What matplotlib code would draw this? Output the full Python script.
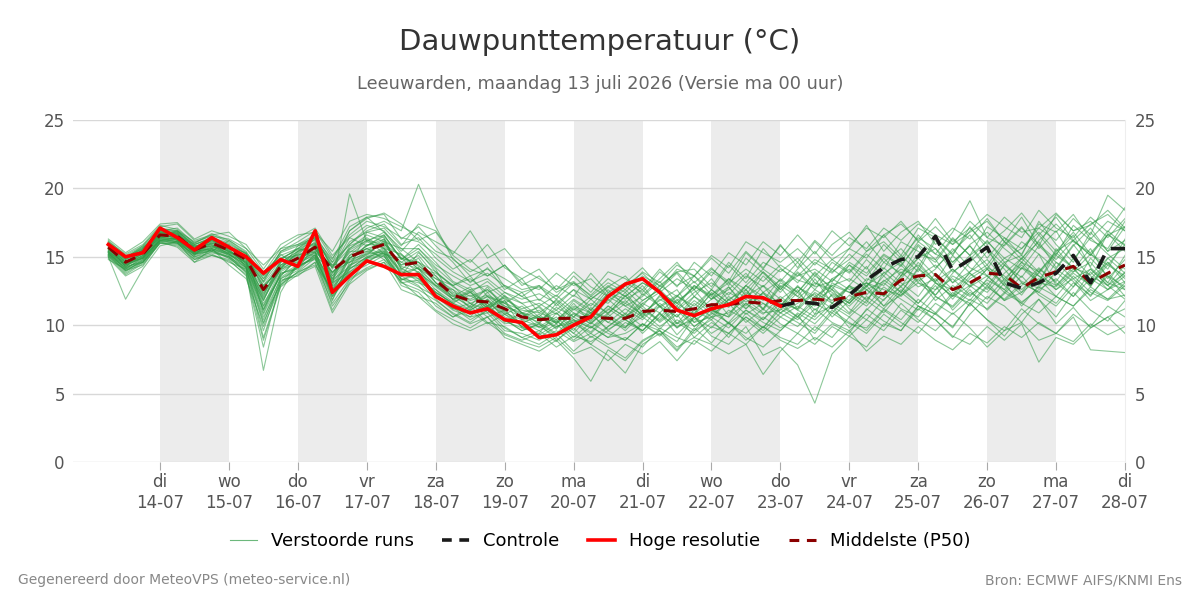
import numpy as np
import matplotlib
matplotlib.use("Agg")
import matplotlib.pyplot as plt

# tijdas: elke 6 uur vanaf ma 13-07 06:00, in dagen t.o.v. di 14-07 00:00
start_dag = -0.75
stap = 0.25

dag_namen = ["di", "wo", "do", "vr", "za", "zo", "ma", "di", "wo", "do", "vr", "za", "zo", "ma", "di"]
datums = ["14-07", "15-07", "16-07", "17-07", "18-07", "19-07", "20-07", "21-07",
          "22-07", "23-07", "24-07", "25-07", "26-07", "27-07", "28-07"]

hoge_resolutie = [15.9, 15.0, 15.3, 17.1, 16.4, 15.5, 16.4, 15.7, 15.0, 13.8,
                  14.8, 14.3, 16.9, 12.4, 13.6, 14.7, 14.3, 13.7, 13.7, 12.1,
                  11.4, 10.9, 11.2, 10.4, 10.2, 9.1, 9.3, 10.0, 10.6, 12.1,
                  13.0, 13.4, 12.4, 11.1, 10.7, 11.2, 11.5, 12.1, 12.0, 11.4]

controle_begin = 39  # controle-run pas zichtbaar vanaf index 39
controle = [11.4, 11.7, 11.6, 11.3, 12.2, 13.3, 14.2, 14.8, 15.0, 16.5,
            14.0, 14.8, 15.7, 13.1, 12.7, 13.1, 13.8, 15.1, 13.1, 15.6, 15.6]

p50 = [15.7, 14.6, 15.2, 16.6, 16.5, 15.5, 16.0, 15.5, 14.8, 12.6,
       14.3, 14.9, 15.7, 14.0, 15.0, 15.5, 15.9, 14.4, 14.6, 13.3,
       12.2, 11.8, 11.7, 11.2, 10.6, 10.4, 10.5, 10.5, 10.6, 10.5,
       10.5, 11.0, 11.1, 11.0, 11.2, 11.5, 11.5, 11.7, 11.6, 11.8,
       11.8, 11.9, 11.8, 12.1, 12.4, 12.3, 13.3, 13.6, 13.7, 12.6,
       13.1, 13.8, 13.7, 12.7, 13.5, 13.9, 14.3, 13.1, 13.8, 14.4]

r01 = [15.9, 14.2, 15.6, 16.9, 16.2, 15.1, 16.3, 15.9, 14.2, 11.8, 14.6, 15.2, 16.1, 13.2, 15.8, 16.3, 15.2, 14.9, 13.8, 12.9,
       12.6, 11.2, 12.4, 11.0, 10.1, 10.8, 9.7, 11.2, 10.4, 11.9, 10.8, 12.3, 11.4, 10.6, 12.1, 11.0, 12.8, 11.4, 12.9, 11.3,
       12.6, 10.8, 13.1, 12.4, 11.6, 13.9, 12.8, 14.6, 13.2, 15.1, 13.8, 12.6, 14.4, 13.5, 15.2, 12.9, 14.1, 15.6, 13.4, 14.8]
r02 = [15.2, 13.9, 14.8, 16.3, 16.9, 15.8, 15.4, 16.2, 15.3, 10.9, 13.8, 14.1, 15.9, 12.8, 14.2, 16.8, 16.4, 13.6, 15.3, 14.1,
       11.8, 12.5, 10.9, 11.8, 9.8, 9.4, 10.9, 9.6, 11.3, 10.2, 9.8, 11.6, 12.4, 10.1, 10.9, 12.3, 10.7, 12.6, 11.1, 12.8,
       11.2, 13.4, 11.6, 12.9, 14.3, 12.1, 13.6, 15.2, 14.8, 13.1, 14.6, 15.8, 13.2, 14.9, 16.1, 14.2, 15.9, 14.3, 16.7, 15.4]
r03 = [14.9, 13.6, 14.3, 16.1, 15.7, 14.6, 15.1, 14.8, 13.6, 8.4, 13.2, 13.8, 14.6, 11.6, 13.4, 14.2, 14.8, 13.1, 12.6, 11.8,
       10.9, 10.2, 11.1, 9.8, 9.1, 8.6, 9.4, 8.1, 9.2, 8.4, 7.6, 8.9, 9.6, 8.2, 9.8, 8.7, 10.2, 9.1, 8.4, 9.6,
       10.8, 8.9, 10.1, 9.4, 11.2, 10.3, 9.6, 11.4, 10.8, 9.9, 11.6, 10.4, 9.2, 10.8, 11.9, 10.1, 11.3, 9.8, 10.6, 11.2]
r04 = [16.2, 15.1, 15.8, 17.2, 17.4, 16.2, 16.6, 16.8, 15.6, 13.9, 15.1, 15.6, 16.4, 14.8, 17.2, 17.9, 18.1, 16.3, 17.2, 15.8,
       14.6, 13.1, 14.2, 12.6, 13.4, 11.8, 12.9, 12.1, 13.8, 12.4, 13.1, 14.2, 12.8, 13.9, 12.6, 14.1, 13.2, 15.3, 14.1, 15.9,
       14.2, 16.1, 14.8, 15.6, 17.3, 15.4, 16.8, 17.6, 15.9, 17.1, 16.3, 17.8, 16.1, 15.2, 17.4, 16.8, 18.1, 16.3, 17.6, 16.9]
r05 = [15.6, 14.8, 15.3, 16.4, 16.1, 15.8, 15.9, 15.2, 14.4, 12.1, 14.8, 15.6, 15.3, 14.4, 14.6, 15.1, 16.2, 14.1, 13.6, 12.4,
       11.6, 12.4, 11.2, 12.1, 10.9, 11.3, 10.1, 11.6, 10.2, 11.1, 12.4, 10.9, 11.8, 12.6, 10.8, 11.9, 12.8, 11.2, 12.4, 10.9,
       11.6, 12.3, 10.6, 11.8, 12.9, 11.4, 12.2, 13.6, 12.1, 11.4, 12.8, 14.1, 12.9, 11.7, 12.6, 13.4, 12.1, 13.9, 12.6, 13.2]
r06 = [15.4, 14.5, 14.9, 16.8, 16.7, 15.4, 16.2, 15.7, 14.9, 13.2, 15.2, 14.2, 16.6, 12.9, 19.6, 16.1, 16.8, 15.2, 14.1, 13.8,
       12.9, 13.6, 12.1, 11.6, 12.4, 10.9, 11.8, 10.6, 11.9, 10.8, 12.2, 10.6, 11.4, 9.8, 11.1, 10.4, 11.9, 12.6, 11.2, 13.1,
       12.4, 13.8, 12.1, 10.9, 12.6, 11.8, 13.4, 14.9, 13.6, 12.2, 13.9, 15.4, 14.1, 12.6, 13.8, 15.2, 16.6, 14.2, 13.1, 15.1]
r07 = [15.1, 13.8, 14.6, 16.2, 16.4, 15.2, 15.6, 15.1, 13.9, 6.7, 12.4, 14.6, 15.1, 13.1, 13.9, 14.6, 15.4, 13.8, 14.2, 12.1,
       11.1, 10.6, 11.9, 10.4, 9.6, 10.1, 8.9, 9.8, 8.6, 9.9, 10.8, 9.4, 10.6, 11.9, 10.2, 11.4, 10.1, 11.1, 10.4, 11.6,
       10.6, 11.8, 12.6, 11.2, 10.4, 11.9, 12.8, 11.6, 12.9, 11.1, 12.4, 11.6, 13.1, 11.4, 12.9, 14.1, 13.2, 11.8, 12.6, 13.6]
r08 = [16.0, 14.9, 15.5, 16.7, 16.6, 15.9, 16.4, 15.3, 15.1, 12.9, 14.1, 15.8, 16.2, 14.6, 15.9, 17.1, 17.6, 16.9, 20.3, 17.2,
       14.8, 13.9, 14.6, 12.8, 12.1, 12.9, 11.4, 12.6, 11.1, 12.3, 11.6, 12.9, 11.3, 12.1, 13.6, 12.2, 13.1, 11.9, 13.6, 12.4,
       13.8, 12.6, 14.1, 13.2, 14.8, 13.6, 15.1, 13.9, 16.2, 14.6, 15.8, 14.1, 15.9, 17.2, 15.6, 16.9, 14.8, 16.4, 15.2, 14.1]
r09 = [15.3, 14.4, 15.1, 16.4, 16.2, 15.6, 15.8, 15.4, 14.6, 11.4, 13.6, 14.9, 15.4, 12.1, 13.6, 14.9, 15.6, 13.4, 13.1, 12.6,
       11.4, 10.8, 11.6, 10.2, 10.9, 9.8, 10.4, 9.1, 10.2, 9.4, 8.9, 10.1, 9.6, 8.8, 10.6, 9.2, 8.6, 9.9, 7.8, 8.4,
       7.1, 4.3, 7.9, 9.2, 8.4, 10.1, 9.6, 11.2, 10.4, 9.1, 10.8, 12.1, 11.4, 10.2, 11.9, 10.6, 12.4, 11.1, 10.3, 11.8]
r10 = [15.8, 15.0, 15.4, 16.5, 16.8, 15.3, 16.1, 15.6, 15.0, 13.6, 14.9, 15.1, 15.8, 14.2, 16.4, 15.8, 16.6, 14.8, 15.9, 14.6,
       13.2, 12.6, 12.9, 11.9, 11.2, 11.6, 10.8, 11.9, 11.1, 12.6, 11.4, 12.1, 13.2, 11.6, 12.8, 12.1, 11.3, 12.9, 12.1, 11.4,
       12.9, 11.6, 13.4, 14.1, 12.8, 14.6, 13.8, 14.9, 15.6, 13.9, 14.8, 16.2, 14.6, 15.1, 13.9, 15.4, 16.8, 15.2, 14.1, 16.3]
r11 = [14.8, 14.1, 14.6, 16.1, 16.3, 14.9, 15.2, 14.6, 14.1, 10.2, 13.1, 14.4, 14.8, 12.4, 14.9, 15.6, 14.8, 13.6, 12.9, 11.4,
       10.6, 11.4, 10.2, 9.9, 9.1, 9.6, 8.8, 10.1, 9.4, 10.6, 9.8, 11.1, 10.3, 11.4, 9.9, 10.8, 11.6, 10.2, 11.2, 10.1,
       9.4, 10.8, 11.4, 9.8, 11.1, 12.4, 11.2, 10.6, 12.1, 11.3, 12.6, 11.1, 12.3, 13.6, 12.2, 11.4, 12.8, 14.1, 12.9, 11.9]
r12 = [15.5, 14.6, 15.2, 16.6, 16.4, 15.7, 16.0, 15.8, 14.7, 12.3, 14.4, 14.8, 15.5, 13.8, 15.3, 16.2, 15.9, 15.1, 14.3, 13.6,
       12.4, 11.9, 12.6, 11.4, 10.8, 10.2, 11.3, 10.6, 11.6, 10.9, 11.8, 10.7, 12.1, 11.2, 12.4, 13.1, 12.2, 13.6, 12.8, 14.1,
       13.3, 12.9, 14.6, 13.8, 15.2, 14.1, 16.1, 15.4, 14.6, 16.3, 15.1, 17.2, 16.4, 15.6, 17.1, 16.2, 17.8, 16.6, 19.5, 18.4]
r13 = [15.7, 14.3, 15.0, 16.9, 16.6, 15.5, 16.5, 15.4, 14.9, 12.8, 14.2, 15.3, 16.0, 13.6, 15.4, 15.4, 16.3, 14.1, 14.9, 13.1,
       12.1, 12.8, 11.4, 12.4, 11.6, 10.6, 11.9, 10.9, 10.3, 11.4, 10.6, 11.8, 12.6, 11.4, 12.9, 11.9, 13.4, 12.2, 13.9, 12.6,
       13.9, 12.8, 13.2, 14.4, 13.6, 15.1, 14.3, 16.1, 15.2, 16.8, 19.1, 16.4, 15.8, 17.1, 15.9, 14.8, 16.2, 15.1, 16.9, 15.8]
r14 = [15.0, 14.0, 14.4, 16.0, 15.9, 15.0, 15.3, 15.0, 13.8, 9.6, 13.4, 14.0, 15.2, 11.9, 14.1, 15.0, 15.3, 13.3, 13.9, 12.8,
       11.9, 11.1, 11.8, 10.6, 10.2, 9.6, 10.3, 9.4, 10.8, 9.7, 10.4, 9.6, 10.8, 9.9, 10.4, 11.1, 10.6, 11.6, 10.8, 12.1,
       11.1, 12.4, 11.6, 12.8, 11.9, 13.1, 12.1, 13.4, 11.8, 12.9, 12.1, 13.3, 12.6, 11.6, 12.8, 12.1, 13.6, 12.4, 11.8, 12.9]
r15 = [16.1, 15.2, 15.9, 17.3, 17.0, 16.0, 16.7, 16.2, 15.4, 13.4, 15.4, 16.1, 16.9, 14.9, 16.6, 17.6, 17.2, 16.4, 16.1, 15.2,
       14.1, 14.8, 13.6, 14.4, 13.1, 12.6, 13.8, 12.9, 13.4, 12.1, 12.9, 13.8, 12.6, 14.1, 13.6, 15.1, 14.2, 16.1, 15.3, 14.6,
       15.6, 14.4, 15.9, 16.8, 15.4, 16.6, 17.4, 16.2, 17.8, 16.1, 17.1, 15.9, 16.9, 18.2, 16.6, 17.9, 16.2, 17.4, 18.1, 16.9]
r16 = [15.2, 14.2, 14.8, 16.2, 16.0, 15.2, 15.5, 15.0, 14.1, 10.6, 13.0, 13.9, 14.4, 12.6, 13.8, 14.4, 15.1, 12.9, 12.4, 11.1,
       10.4, 9.8, 10.6, 9.1, 8.6, 8.1, 8.9, 7.6, 5.9, 8.2, 7.4, 8.8, 9.6, 8.4, 9.1, 10.2, 9.4, 10.6, 9.8, 11.2,
       10.4, 11.6, 10.9, 12.2, 11.4, 12.8, 11.9, 11.1, 12.6, 13.4, 12.2, 13.1, 11.8, 12.9, 14.2, 13.1, 12.1, 13.4, 14.6, 13.1]
r17 = [15.6, 14.7, 15.2, 16.7, 16.5, 15.6, 16.2, 15.5, 14.5, 12.4, 14.0, 15.0, 15.6, 13.9, 14.6, 15.9, 15.8, 14.6, 15.4, 13.9,
       12.8, 12.1, 12.6, 11.6, 11.1, 10.9, 10.4, 11.4, 10.9, 11.8, 12.6, 11.4, 12.9, 12.1, 13.2, 11.9, 12.6, 13.8, 12.4, 13.3,
       12.1, 13.6, 12.8, 11.6, 12.9, 13.8, 14.6, 13.2, 14.1, 15.6, 14.2, 13.6, 14.9, 14.1, 15.8, 14.6, 13.9, 15.2, 14.4, 15.9]
r18 = [15.3, 14.6, 14.9, 16.4, 16.3, 15.3, 15.7, 15.3, 14.6, 11.9, 14.1, 14.5, 15.4, 12.6, 14.4, 15.3, 16.0, 14.2, 13.4, 12.3,
       11.2, 11.6, 10.6, 11.1, 9.9, 10.2, 9.4, 10.6, 9.9, 9.1, 10.2, 9.6, 10.9, 9.3, 10.6, 9.8, 11.1, 10.4, 9.4, 10.6,
       9.9, 11.2, 10.2, 9.6, 10.8, 9.9, 11.6, 10.4, 9.6, 10.9, 9.8, 8.4, 9.6, 10.2, 8.9, 9.4, 10.6, 8.2, 8.1, 8.0]
r19 = [15.8, 14.9, 15.6, 16.8, 16.6, 15.8, 16.1, 15.9, 15.2, 12.6, 14.6, 15.4, 15.9, 13.4, 15.6, 16.4, 15.6, 14.4, 15.1, 13.6,
       12.2, 11.3, 12.1, 10.9, 10.4, 9.9, 10.6, 9.4, 8.6, 7.8, 6.5, 8.6, 9.4, 8.1, 9.6, 10.4, 9.1, 10.9, 9.8, 11.4,
       10.6, 12.1, 11.2, 12.9, 11.8, 13.3, 12.4, 14.1, 13.1, 12.1, 13.6, 14.4, 12.9, 14.6, 13.2, 15.1, 14.2, 12.8, 14.9, 13.8]
r20 = [15.6, 14.4, 15.3, 17.0, 16.9, 15.9, 16.3, 15.6, 15.0, 13.1, 14.8, 15.6, 16.6, 14.1, 16.1, 16.8, 17.1, 15.8, 17.4, 16.9,
       15.2, 16.9, 14.9, 15.6, 14.1, 13.4, 12.6, 13.9, 12.8, 12.1, 13.1, 12.4, 13.9, 12.9, 13.6, 12.6, 14.4, 13.1, 14.6, 13.9,
       14.9, 13.6, 14.8, 13.9, 15.4, 16.1, 14.9, 16.4, 15.6, 14.4, 15.9, 16.8, 15.6, 14.6, 16.2, 17.4, 16.1, 15.3, 16.6, 17.2]
r21 = [15.4, 14.5, 15.1, 16.5, 16.2, 15.4, 15.9, 15.2, 14.4, 11.2, 13.9, 14.7, 15.3, 12.9, 14.8, 15.2, 15.4, 13.9, 13.6, 12.4,
       11.6, 10.9, 11.4, 10.4, 9.6, 10.1, 9.3, 10.4, 9.8, 10.6, 9.6, 10.9, 9.9, 10.8, 9.1, 8.6, 7.9, 8.6, 6.4, 8.1,
       9.4, 8.6, 9.9, 9.2, 10.4, 9.6, 11.1, 10.2, 11.6, 10.8, 11.9, 11.2, 12.4, 11.6, 10.9, 12.1, 11.4, 12.6, 11.9, 12.2]
r22 = [15.1, 14.0, 14.7, 16.3, 16.1, 15.1, 15.5, 15.2, 14.2, 9.1, 12.9, 14.3, 14.9, 11.4, 13.1, 14.8, 15.1, 13.1, 13.3, 12.2,
       11.4, 10.6, 10.9, 9.6, 9.4, 8.9, 9.6, 8.8, 9.4, 8.6, 9.1, 8.4, 9.8, 9.1, 8.6, 9.9, 9.4, 10.6, 9.6, 10.9,
       10.2, 9.4, 10.9, 10.1, 9.8, 11.2, 10.4, 11.9, 10.9, 12.4, 11.4, 12.8, 11.9, 13.1, 12.4, 11.6, 13.1, 12.2, 13.6, 12.8]
r23 = [16.0, 15.0, 15.7, 16.6, 16.9, 15.7, 16.4, 15.7, 15.3, 13.8, 15.6, 15.9, 16.4, 14.2, 16.9, 17.9, 16.8, 15.6, 14.6, 13.9,
       12.9, 13.4, 12.4, 12.9, 12.1, 11.4, 12.2, 11.1, 12.1, 11.6, 12.9, 11.8, 12.6, 13.8, 12.1, 13.4, 11.8, 12.9, 14.1, 13.2,
       14.6, 13.1, 12.6, 14.4, 13.2, 14.9, 13.6, 15.8, 14.2, 15.4, 16.6, 14.9, 16.4, 15.1, 17.6, 15.9, 14.6, 16.8, 15.4, 17.2]
r24 = [15.5, 14.7, 15.0, 16.2, 16.4, 15.5, 15.8, 15.4, 14.6, 11.6, 13.6, 14.9, 15.6, 13.4, 14.9, 15.6, 15.2, 14.6, 14.1, 12.9,
       11.9, 12.4, 11.6, 10.8, 11.4, 10.4, 10.9, 9.9, 11.1, 10.2, 11.2, 10.4, 11.6, 10.6, 11.8, 10.9, 12.1, 11.2, 12.4, 11.6,
       11.2, 12.6, 11.8, 12.9, 12.2, 13.6, 12.4, 14.2, 13.1, 12.6, 13.8, 12.9, 14.4, 13.2, 12.7, 14.6, 13.4, 14.1, 12.9, 13.8]
r25 = [15.2, 14.3, 14.6, 16.0, 16.0, 14.8, 15.4, 14.9, 13.9, 10.1, 13.3, 13.6, 14.6, 11.1, 13.3, 14.1, 14.6, 13.2, 12.1, 11.6,
       10.6, 11.1, 10.1, 10.8, 9.9, 9.3, 10.1, 8.9, 9.9, 9.1, 9.4, 10.1, 9.2, 10.4, 9.6, 11.2, 10.1, 9.4, 10.6, 9.8,
       10.6, 9.6, 11.1, 10.2, 9.4, 10.8, 9.9, 11.4, 10.4, 9.2, 8.6, 9.9, 8.9, 10.1, 7.3, 9.1, 8.6, 9.8, 10.6, 9.4]
r26 = [15.9, 14.9, 15.8, 17.1, 16.9, 16.1, 16.5, 16.3, 15.6, 14.4, 15.6, 16.4, 17.1, 15.1, 16.4, 17.3, 16.9, 15.4, 16.8, 16.1,
       15.4, 14.6, 15.9, 14.2, 13.4, 14.1, 12.6, 13.2, 12.1, 13.1, 12.4, 13.6, 12.9, 13.9, 14.1, 12.8, 14.6, 13.4, 15.6, 14.2,
       13.1, 14.6, 13.8, 15.2, 14.1, 15.9, 14.6, 16.6, 15.2, 14.6, 15.8, 14.4, 16.1, 14.8, 16.6, 15.1, 17.3, 16.2, 15.6, 17.6]
r27 = [15.7, 14.8, 15.4, 16.6, 16.7, 15.6, 16.2, 15.7, 14.8, 12.2, 14.4, 15.2, 15.1, 13.9, 14.9, 15.8, 16.5, 14.9, 14.6, 13.4,
       12.6, 11.8, 12.2, 11.6, 10.6, 11.1, 10.1, 11.3, 10.6, 12.4, 11.9, 12.6, 11.4, 12.2, 11.1, 12.6, 11.6, 12.1, 11.2, 12.9,
       12.1, 11.4, 12.9, 12.4, 13.1, 12.2, 13.9, 12.8, 13.4, 11.9, 13.4, 14.2, 13.6, 12.4, 14.1, 13.2, 14.9, 13.6, 12.9, 14.4]
r28 = [15.3, 14.1, 14.9, 16.3, 16.1, 15.4, 15.6, 15.3, 14.3, 11.1, 13.8, 14.2, 15.0, 12.3, 14.2, 14.6, 15.3, 13.4, 12.8, 12.1,
       11.3, 10.4, 11.1, 10.1, 10.3, 9.1, 9.9, 10.4, 9.1, 9.9, 10.9, 9.9, 11.4, 10.1, 11.6, 10.6, 10.9, 11.9, 10.9, 11.1,
       12.4, 11.1, 12.2, 11.4, 12.6, 11.4, 12.9, 13.6, 12.2, 13.6, 12.9, 14.1, 13.1, 14.4, 13.1, 12.8, 13.9, 14.6, 13.1, 12.6]
r29 = [15.8, 14.6, 15.5, 16.8, 16.8, 15.7, 16.3, 15.7, 15.0, 13.4, 14.9, 15.5, 16.3, 14.3, 15.6, 16.6, 16.1, 15.6, 15.6, 14.4,
       13.6, 12.9, 13.4, 12.4, 11.9, 12.3, 11.6, 12.6, 11.9, 12.9, 12.1, 13.1, 12.4, 13.4, 12.6, 13.9, 13.1, 14.1, 13.2, 14.4,
       13.6, 14.8, 14.1, 15.6, 14.9, 16.6, 15.1, 17.1, 16.4, 15.2, 16.9, 18.1, 17.2, 16.4, 18.4, 17.1, 16.4, 17.9, 16.8, 18.6]
r30 = [15.4, 14.3, 15.1, 16.5, 16.3, 15.3, 15.8, 15.1, 14.7, 12.0, 14.2, 14.6, 15.8, 13.3, 14.3, 15.2, 16.1, 14.3, 13.9, 12.6,
       11.7, 12.2, 11.3, 11.8, 10.4, 10.6, 9.9, 10.2, 10.9, 9.6, 10.6, 11.4, 10.2, 11.2, 10.2, 10.6, 11.9, 10.8, 11.6, 10.6,
       11.4, 10.6, 12.3, 11.6, 13.1, 12.6, 12.2, 13.1, 12.6, 14.1, 12.8, 13.6, 12.6, 14.2, 13.6, 12.6, 13.8, 12.9, 14.6, 13.4]
r31 = [15.0, 13.7, 14.5, 16.0, 15.8, 14.8, 15.1, 14.7, 13.7, 8.9, 12.8, 13.7, 14.3, 10.9, 13.0, 14.0, 14.6, 12.6, 12.1, 11.0,
       10.1, 9.6, 10.2, 9.3, 8.8, 8.4, 9.1, 7.9, 8.4, 7.4, 8.6, 7.9, 8.8, 7.4, 8.9, 8.1, 9.4, 8.6, 9.9, 8.9,
       8.3, 9.1, 8.4, 9.6, 8.1, 9.2, 8.6, 9.9, 8.9, 8.2, 9.4, 8.7, 9.9, 9.1, 10.2, 9.4, 8.8, 10.1, 9.3, 9.9]
r32 = [16.3, 15.3, 16.1, 17.4, 17.5, 16.3, 16.9, 16.5, 15.9, 14.1, 15.9, 16.6, 16.8, 15.4, 17.6, 18.1, 17.8, 17.2, 16.6, 15.4,
       14.9, 13.6, 14.1, 13.4, 12.6, 12.9, 12.1, 13.6, 12.4, 13.9, 13.4, 12.6, 14.1, 12.8, 14.6, 13.6, 15.3, 14.4, 16.1, 15.1,
       16.6, 15.2, 16.9, 15.8, 17.1, 16.4, 17.6, 16.1, 17.2, 15.9, 16.8, 17.6, 16.1, 17.9, 15.8, 18.1, 16.9, 17.3, 18.4, 17.1]
r33 = [15.6, 14.6, 15.2, 16.8, 16.2, 15.5, 16.0, 15.5, 14.5, 12.7, 14.4, 15.1, 15.6, 13.6, 15.1, 15.6, 16.0, 14.4, 14.6, 13.1,
       12.3, 11.6, 12.1, 11.4, 10.9, 10.4, 11.1, 10.1, 10.9, 10.6, 11.6, 10.8, 11.9, 11.1, 12.1, 11.3, 12.4, 11.7, 12.3, 11.4,
       12.8, 12.1, 12.9, 13.4, 12.6, 13.2, 14.1, 13.6, 14.4, 13.1, 13.9, 14.8, 13.4, 14.6, 13.9, 15.3, 14.2, 13.7, 14.9, 15.6]
r34 = [15.1, 14.2, 14.7, 16.2, 16.0, 15.0, 15.5, 14.9, 14.0, 10.4, 13.5, 14.3, 15.0, 12.1, 13.9, 14.9, 15.2, 13.3, 13.7, 12.1,
       11.2, 10.9, 11.4, 10.3, 9.8, 9.9, 9.2, 10.3, 9.5, 10.8, 9.9, 10.6, 9.7, 11.1, 9.9, 10.9, 10.2, 11.6, 10.4, 11.9,
       11.1, 10.4, 11.6, 10.8, 12.1, 11.2, 12.6, 11.6, 13.1, 12.1, 12.9, 11.9, 13.4, 12.2, 13.9, 12.6, 13.4, 12.1, 13.8, 12.6]
r35 = [15.0, 11.9, 14.1, 15.8, 16.1, 14.6, 15.6, 14.4, 13.4, 9.9, 12.9, 13.9, 14.9, 11.8, 14.6, 15.4, 15.0, 13.6, 14.2, 12.9,
       12.1, 11.4, 12.8, 11.2, 10.6, 11.4, 10.2, 11.8, 10.9, 12.1, 11.4, 10.6, 12.2, 11.6, 10.8, 12.4, 11.4, 12.9, 11.8, 13.4,
       12.4, 13.9, 12.6, 11.8, 13.4, 12.9, 14.4, 13.1, 12.2, 13.8, 15.1, 13.6, 12.4, 14.2, 13.1, 15.6, 14.1, 12.9, 14.4, 13.6]
r36 = [15.9, 14.8, 15.7, 16.9, 17.1, 16.0, 16.6, 16.1, 15.2, 13.2, 15.4, 15.9, 16.6, 14.6, 16.9, 17.8, 18.2, 17.4, 16.2, 16.8,
       15.1, 14.1, 13.6, 14.4, 12.9, 13.6, 12.4, 13.1, 11.9, 12.8, 13.6, 12.2, 13.4, 14.6, 13.1, 14.2, 12.9, 14.9, 13.8, 12.6,
       14.1, 15.4, 13.9, 14.8, 16.1, 14.6, 15.6, 14.2, 16.4, 15.1, 17.2, 15.6, 14.4, 16.1, 15.2, 14.1, 15.8, 17.1, 15.4, 16.2]
r37 = [15.5, 14.4, 14.9, 16.4, 16.6, 15.2, 15.7, 15.6, 14.3, 11.4, 14.1, 15.4, 16.3, 12.6, 15.1, 16.1, 15.6, 15.2, 14.1, 13.4,
       12.9, 11.6, 11.1, 12.2, 10.9, 10.1, 11.6, 10.4, 9.8, 10.9, 12.1, 11.2, 10.4, 11.8, 12.6, 11.1, 10.6, 12.4, 11.6, 10.9,
       11.9, 13.1, 12.4, 11.6, 12.8, 14.2, 13.1, 12.1, 13.8, 12.6, 11.8, 13.4, 14.6, 13.1, 12.4, 13.9, 12.8, 14.9, 13.6, 12.1]
r38 = [15.3, 14.0, 14.6, 16.1, 16.0, 15.2, 15.4, 15.0, 14.2, 10.8, 13.4, 14.2, 15.1, 12.2, 14.4, 14.9, 15.5, 14.0, 13.2, 11.9,
       10.8, 10.1, 10.6, 9.4, 8.9, 9.4, 8.4, 9.2, 8.8, 9.6, 8.9, 10.1, 9.3, 10.2, 9.4, 10.6, 9.8, 11.1, 10.2, 9.6,
       10.9, 10.1, 11.4, 10.6, 11.8, 10.9, 12.4, 11.4, 10.8, 12.2, 11.6, 12.9, 11.8, 12.4, 13.4, 12.1, 11.4, 12.8, 11.9, 13.1]
r39 = [15.7, 14.9, 15.5, 16.9, 16.7, 15.6, 16.3, 15.8, 14.8, 12.9, 14.6, 15.4, 16.0, 13.8, 15.5, 16.2, 16.6, 14.8, 15.6, 14.2,
       13.1, 12.4, 13.2, 12.1, 11.6, 11.9, 11.1, 12.2, 11.4, 12.8, 12.1, 13.1, 12.4, 11.6, 12.9, 12.2, 13.4, 12.6, 13.9, 12.8,
       13.6, 14.1, 13.2, 14.6, 13.8, 15.2, 14.4, 15.9, 14.8, 16.4, 15.1, 16.1, 14.9, 15.6, 16.8, 15.4, 16.2, 15.1, 16.6, 15.9]
r40 = [15.4, 14.1, 15.0, 16.6, 16.4, 15.2, 16.0, 15.4, 14.5, 11.8, 14.3, 14.8, 15.9, 13.1, 14.9, 15.8, 16.3, 14.9, 14.4, 13.1,
       11.9, 12.6, 11.4, 12.0, 10.9, 10.6, 10.2, 10.8, 10.1, 11.2, 10.4, 9.6, 10.9, 9.8, 10.6, 9.4, 10.2, 8.9, 9.9, 9.1,
       8.6, 9.9, 9.1, 10.6, 9.6, 11.1, 10.2, 9.4, 10.9, 9.8, 11.6, 10.4, 9.6, 11.2, 10.1, 9.4, 10.8, 9.9, 11.4, 10.6]
r41 = [16.1, 15.0, 15.6, 17.0, 16.8, 15.9, 16.4, 16.0, 15.2, 13.6, 15.3, 15.8, 16.4, 14.4, 15.9, 16.9, 17.4, 15.9, 16.4, 14.9,
       13.9, 13.2, 13.8, 12.9, 12.4, 12.8, 11.9, 13.1, 12.2, 13.4, 12.6, 13.9, 13.1, 14.4, 13.6, 14.9, 13.8, 15.4, 14.2, 15.8,
       14.6, 16.2, 15.1, 16.4, 15.6, 17.1, 16.2, 17.4, 16.6, 15.9, 17.6, 16.4, 17.9, 16.8, 17.1, 18.2, 16.9, 17.6, 16.4, 17.8]
r42 = [15.2, 14.4, 14.9, 16.2, 16.1, 15.3, 15.6, 15.2, 14.2, 11.1, 13.7, 14.4, 15.3, 12.4, 14.1, 15.0, 15.7, 13.7, 13.4, 12.4,
       11.6, 11.1, 11.9, 10.8, 10.2, 10.6, 9.8, 10.9, 10.1, 11.4, 10.6, 11.6, 10.9, 12.1, 11.4, 12.6, 11.6, 12.1, 12.9, 11.9,
       12.8, 11.9, 13.4, 12.6, 13.1, 12.1, 13.6, 14.4, 13.2, 14.1, 13.1, 12.4, 13.8, 14.9, 13.6, 12.9, 14.3, 13.4, 12.6, 13.9]

verstoorde_runs = [r01, r02, r03, r04, r05, r06, r07, r08, r09, r10, r11, r12, r13, r14,
                   r15, r16, r17, r18, r19, r20, r21, r22, r23, r24, r25, r26, r27, r28,
                   r29, r30, r31, r32, r33, r34, r35, r36, r37, r38, r39, r40, r41, r42]

t_runs = start_dag + stap * np.arange(len(p50))
t_hres = t_runs[:len(hoge_resolutie)]
t_ctrl = t_runs[controle_begin:controle_begin + len(controle)]

fig = plt.figure(figsize=(12, 6), dpi=100)
ax = fig.add_axes([0.061, 0.23, 0.8765, 0.57])

# grijze banden om de dag
for d in range(0, 14, 2):
    ax.axvspan(d, d + 1, color="#ececec", lw=0, zorder=0)

ax.set_ylim(0, 25)
ax.set_xlim(-1.26, 14)
ax.set_yticks([0, 5, 10, 15, 20, 25])
ax.grid(axis="y", color="#d8d8d8", lw=1, zorder=1)
ax.set_axisbelow(True)

for run in verstoorde_runs:
    ax.plot(t_runs, run, color="#2e9b45", lw=0.8, alpha=0.55, zorder=2)
ax.plot(t_runs, p50, color="#8b0000", lw=2.2, ls=(0, (4, 3)), zorder=3)
ax.plot(t_ctrl, controle, color="#1a1a1a", lw=2.6, ls=(0, (4, 3)), zorder=4)
ax.plot(t_hres, hoge_resolutie, color="#ff0000", lw=2.6, zorder=5)

ax.set_xticks(np.arange(len(datums)))
ax.set_xticklabels([f"{a}\n{b}" for a, b in zip(dag_namen, datums)])
ax.tick_params(axis="x", length=6, color="#aaaaaa", labelcolor="#555555", labelsize=12, pad=2)
ax.tick_params(axis="y", length=0, labelcolor="#555555", labelsize=12, pad=6)
for s in ["top", "left", "bottom"]:
    ax.spines[s].set_visible(False)
ax.spines["right"].set_color("#eeeeee")

ax2 = ax.twinx()
ax2.set_ylim(0, 25)
ax2.set_yticks([0, 5, 10, 15, 20, 25])
ax2.tick_params(axis="y", length=0, labelcolor="#555555", labelsize=12, pad=7)
for s in ax2.spines.values():
    s.set_visible(False)

fig.text(0.5, 0.93, "Dauwpunttemperatuur (°C)", ha="center", va="center", fontsize=21, color="#333333")
fig.text(0.5, 0.86, "Leeuwarden, maandag 13 juli 2026 (Versie ma 00 uur)", ha="center", va="center",
         fontsize=12.8, color="#666666")

# legenda: korte streepjes zodat er precies twee in het symbool passen
handles = [
    plt.Line2D([], [], color="#2e9b45", lw=0.8, alpha=0.7),
    plt.Line2D([], [], color="#1a1a1a", lw=2.6, ls=(0, (2.7, 2.1))),
    plt.Line2D([], [], color="#ff0000", lw=2.6),
    plt.Line2D([], [], color="#8b0000", lw=2.2, ls=(0, (3.2, 2.5))),
]
labels = ["Verstoorde runs", "Controle", "Hoge resolutie", "Middelste (P50)"]
fig.legend(handles, labels, loc="center", bbox_to_anchor=(0.5, 0.098), ncol=4, frameon=False,
           fontsize=13, handlelength=1.5, handletextpad=0.75, columnspacing=1.6)

fig.text(0.015, 0.033, "Gegenereerd door MeteoVPS (meteo-service.nl)", ha="left", va="center",
         fontsize=10, color="#888888")
fig.text(0.985, 0.033, "Bron: ECMWF AIFS/KNMI Ens", ha="right", va="center", fontsize=10, color="#888888")

fig.savefig("out.png", dpi=100)
